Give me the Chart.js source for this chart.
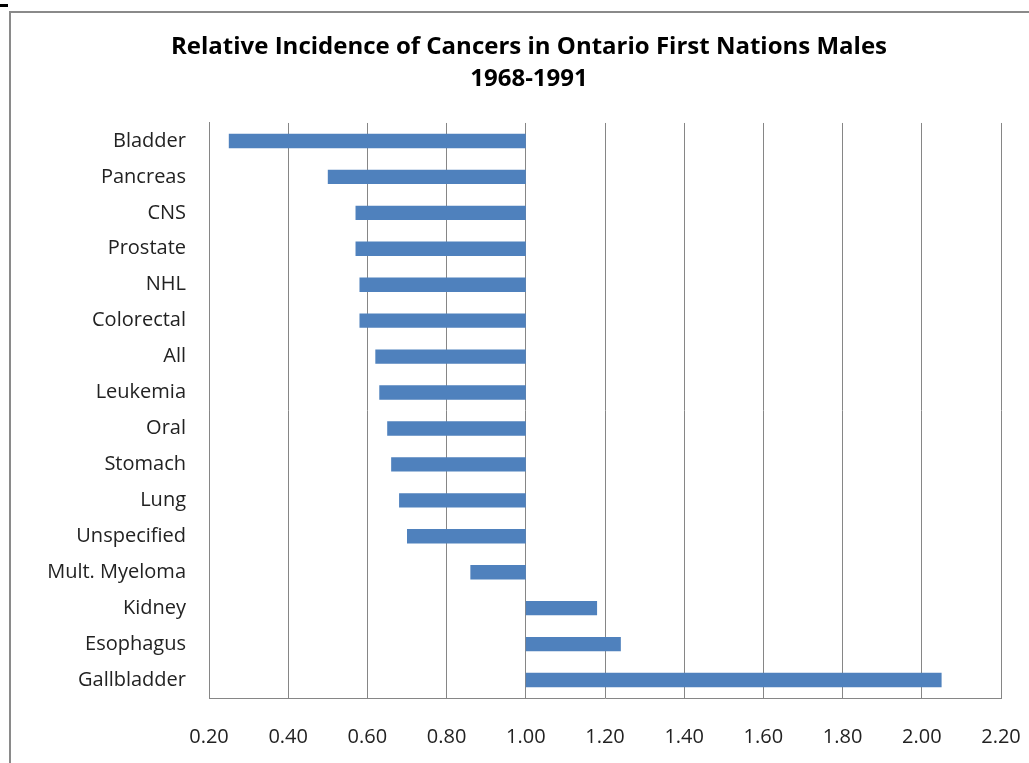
<!DOCTYPE html>
<html>
<head>
<meta charset="utf-8">
<script src="https://cdn.jsdelivr.net/npm/chart.js@4"></script>
<style>
  html, body { margin: 0; padding: 0; background: #fff; overflow: hidden; }
  #wrap { position: relative; width: 1029px; height: 763px; }
  #frame { position: absolute; left: 9px; top: 11px; width: 1100px; height: 800px; border: 2px solid #8a8a8a; box-sizing: border-box; }
  #mark { position: absolute; left: 0; top: 4px; width: 8px; height: 3px; background: #000; }
  canvas { position: absolute; left: 0; top: 0; }
</style>
</head>
<body>
<div id="wrap">
  <div id="frame"></div>
  <div id="mark"></div>
  <canvas id="c" width="1029" height="763"></canvas>
</div>
<script>
const categories = ["Bladder", "Pancreas", "CNS", "Prostate", "NHL", "Colorectal", "All", "Leukemia", "Oral", "Stomach", "Lung", "Unspecified", "Mult. Myeloma", "Kidney", "Esophagus", "Gallbladder"];
const relativeIncidence = [0.25, 0.50, 0.57, 0.57, 0.58, 0.58, 0.62, 0.63, 0.65, 0.66, 0.68, 0.70, 0.86, 1.18, 1.24, 2.05];
const baseline = 1.00;
const xTickMin = 0.20;
const xTickMax = 2.20;
const xTickStep = 0.20;
const titleLines = ["Relative Incidence of Cancers in Ontario First Nations Males", "1968-1991"];

const FONT = "'Open Sans', 'DejaVu Sans', sans-serif";

new Chart(document.getElementById('c'), {
  type: 'bar',
  data: {
    labels: categories,
    datasets: [{
      data: relativeIncidence.map(v => [baseline, v]),
      backgroundColor: '#4F81BD',
      borderWidth: 0,
      categoryPercentage: 1.0,
      barPercentage: 0.4
    }]
  },
  options: {
    indexAxis: 'y',
    responsive: false,
    animation: false,
    layout: { padding: { left: 38, right: 9, top: 0, bottom: 0 } },
    plugins: {
      legend: { display: false },
      tooltip: { enabled: false },
      title: {
        display: true,
        text: titleLines,
        color: '#000',
        font: { family: FONT, size: 24, weight: 'bold', lineHeight: 1.333 },
        padding: { top: 31, bottom: 28 }
      }
    },
    scales: {
      x: {
        min: xTickMin,
        max: xTickMax,
        ticks: {
          stepSize: xTickStep,
          color: '#222',
          font: { family: FONT, size: 20 },
          padding: 27,
          maxRotation: 0,
          callback: v => Number(v).toFixed(2)
        },
        grid: { color: '#868686', lineWidth: 1, drawTicks: false },
        border: { display: true, color: '#868686', width: 1 },
        afterFit: s => { s.height = 65; s.paddingLeft = 0; s.paddingRight = 28; }
      },
      y: {
        ticks: {
          color: '#222',
          font: { family: FONT, size: 20 },
          padding: 23,
          autoSkip: false
        },
        grid: { display: false, drawTicks: false },
        border: { display: true, color: '#868686', width: 1 },
        afterFit: s => { s.width = 171; }
      }
    }
  }
});
</script>
</body>
</html>
